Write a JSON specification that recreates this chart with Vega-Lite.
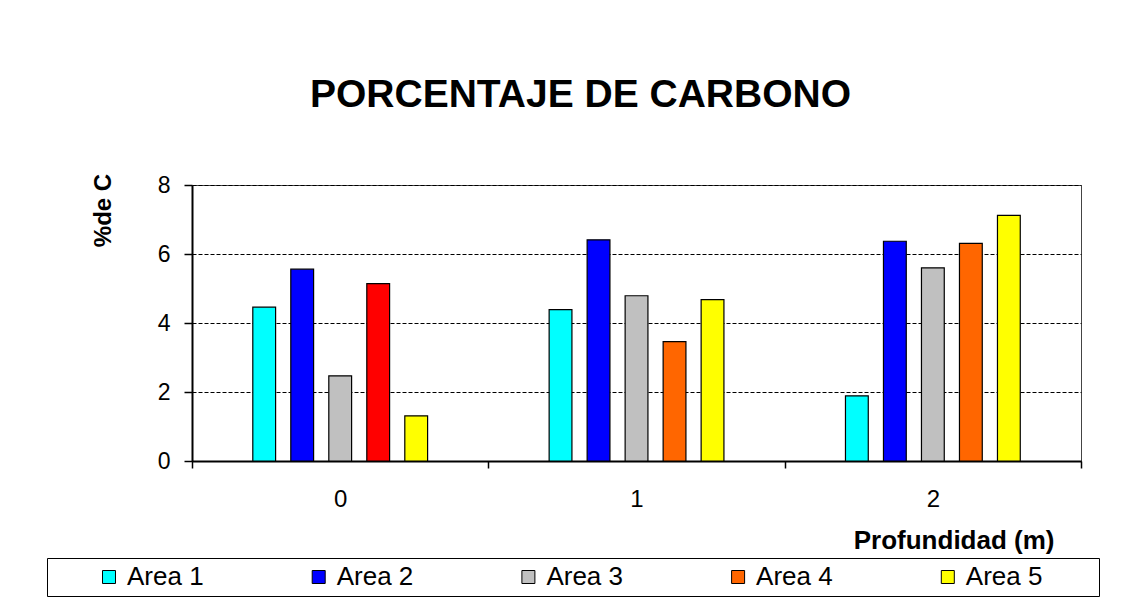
{
  "$schema": "https://vega.github.io/schema/vega-lite/v6.json",
  "width": 889,
  "height": 276,
  "autosize": {"type": "none"},
  "padding": {"left": 192, "top": 185, "right": 43, "bottom": 143},
  "background": "white",
  "title": {
    "text": "PORCENTAJE DE CARBONO",
    "font": "Liberation Sans",
    "fontSize": 39,
    "fontWeight": "bold",
    "color": "black",
    "anchor": "middle",
    "frame": "group",
    "dx": -56,
    "offset": 58
  },
  "data": {
    "values": [
      {"Profundidad": "0", "Area": "Area 1", "C": 4.46},
      {"Profundidad": "0", "Area": "Area 2", "C": 5.56},
      {"Profundidad": "0", "Area": "Area 3", "C": 2.47},
      {"Profundidad": "0", "Area": "Area 4", "C": 5.14},
      {"Profundidad": "0", "Area": "Area 5", "C": 1.31},
      {"Profundidad": "1", "Area": "Area 1", "C": 4.39},
      {"Profundidad": "1", "Area": "Area 2", "C": 6.41},
      {"Profundidad": "1", "Area": "Area 3", "C": 4.79},
      {"Profundidad": "1", "Area": "Area 4", "C": 3.46},
      {"Profundidad": "1", "Area": "Area 5", "C": 4.68},
      {"Profundidad": "2", "Area": "Area 1", "C": 1.89},
      {"Profundidad": "2", "Area": "Area 2", "C": 6.37},
      {"Profundidad": "2", "Area": "Area 3", "C": 5.60},
      {"Profundidad": "2", "Area": "Area 4", "C": 6.31},
      {"Profundidad": "2", "Area": "Area 5", "C": 7.12}
    ]
  },
  "mark": {"type": "bar", "stroke": "black", "strokeWidth": 1.2},
  "encoding": {
    "x": {
      "field": "Profundidad",
      "type": "nominal",
      "sort": ["0", "1", "2"],
      "scale": {"paddingInner": 0, "paddingOuter": 0},
      "axis": {
        "title": "Profundidad (m)",
        "titleFont": "Liberation Sans",
        "titleFontSize": 26,
        "titleFontWeight": "bold",
        "titleColor": "black",
        "titleX": 862,
        "titleY": 87,
        "titleAlign": "right",
        "titleBaseline": "alphabetic",
        "labelAngle": 0,
        "labelFont": "Liberation Sans",
        "labelFontSize": 24,
        "labelColor": "black",
        "labelPadding": 19,
        "tickBand": "extent",
        "tickSize": 7,
        "tickWidth": 1.5,
        "tickColor": "black",
        "domainColor": "black",
        "domainWidth": 2,
        "grid": false
      }
    },
    "xOffset": {
      "field": "Area",
      "type": "nominal",
      "scale": {"range": [60.8, 235.6], "paddingInner": 0.4, "paddingOuter": 0}
    },
    "y": {
      "field": "C",
      "type": "quantitative",
      "scale": {"domain": [0, 8], "nice": false},
      "axis": {
        "title": "%de C",
        "values": [0, 2, 4, 6, 8],
        "titleFont": "Liberation Sans",
        "titleFontSize": 24,
        "titleFontWeight": "bold",
        "titleColor": "black",
        "titleX": -89,
        "titleY": 25,
        "titleAngle": -90,
        "titleAlign": "center",
        "titleBaseline": "middle",
        "labelFont": "Liberation Sans",
        "labelFontSize": 23,
        "labelColor": "black",
        "labelPadding": 14,
        "tickSize": 8,
        "tickWidth": 1.5,
        "tickColor": "black",
        "domainColor": "black",
        "domainWidth": 2,
        "grid": true,
        "gridDash": [4, 2],
        "gridColor": "black",
        "gridWidth": 1
      }
    },
    "color": {
      "condition": {
        "test": "datum.Profundidad === '0' && datum.Area === 'Area 4'",
        "value": "#FF0000"
      },
      "field": "Area",
      "type": "nominal",
      "scale": {
        "domain": ["Area 1", "Area 2", "Area 3", "Area 4", "Area 5"],
        "range": ["#00FFFF", "#0000FF", "#C0C0C0", "#FF6600", "#FFFF00"]
      },
      "legend": {
        "orient": "none",
        "legendX": -145,
        "legendY": 373,
        "direction": "horizontal",
        "columns": 5,
        "title": "\u00a0",
        "titleOrient": "right",
        "titleFontSize": 2,
        "titlePadding": 51,
        "symbolType": "square",
        "symbolSize": 169,
        "symbolStrokeColor": "black",
        "symbolStrokeWidth": 1,
        "symbolOffset": 43,
        "labelFont": "Liberation Sans",
        "labelFontSize": 26,
        "labelColor": "black",
        "labelOffset": 5,
        "columnPadding": 58.7,
        "padding": 6,
        "strokeColor": "black",
        "fillColor": "white"
      }
    }
  },
  "config": {
    "view": {"stroke": "#444", "strokeWidth": 1}
  }
}
